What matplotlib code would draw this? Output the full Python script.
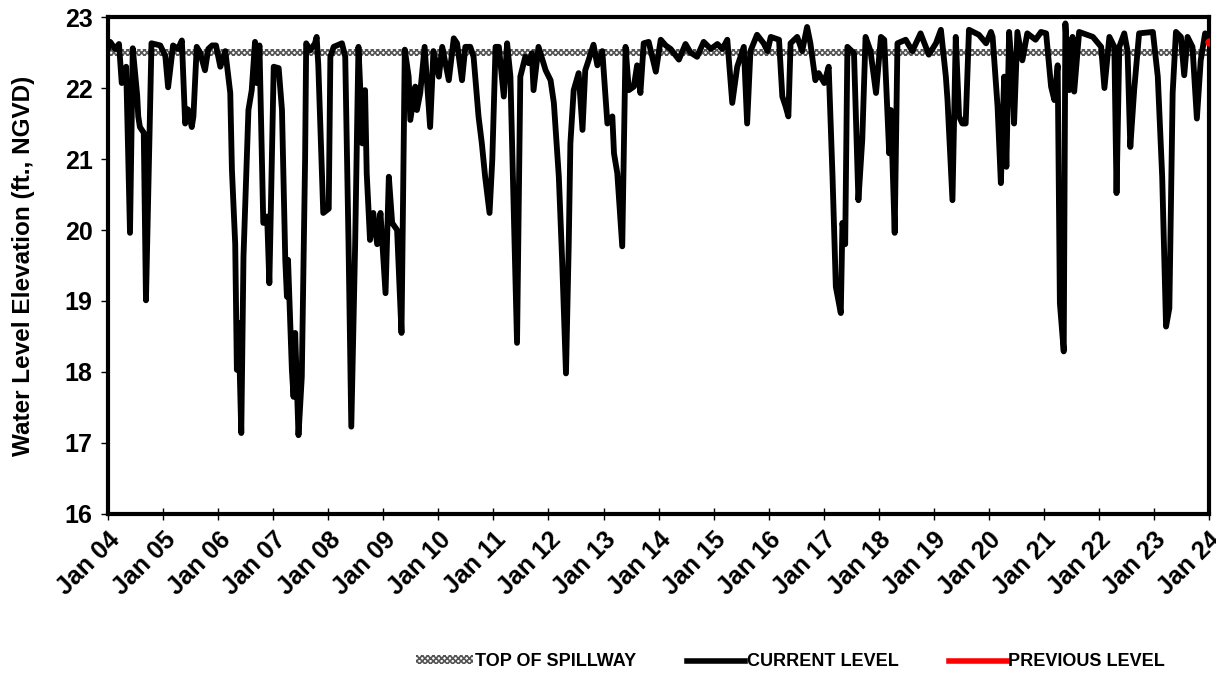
import numpy as np
import pandas as pd
import matplotlib
matplotlib.use("Agg")
import matplotlib.pyplot as plt
import matplotlib.dates as mdates
from matplotlib.patches import Patch
from matplotlib.lines import Line2D

plt.rcParams["font.family"] = ["Liberation Sans", "DejaVu Sans"]
plt.rcParams["font.weight"] = "bold"
plt.rcParams["hatch.linewidth"] = 1.2

# 판독한 값 (소수 연도, 수위 ft NGVD)
years = [
    2004.00, 2004.04, 2004.13, 2004.20, 2004.25, 2004.33, 2004.40, 2004.45, 2004.53, 2004.55,
    2004.58, 2004.65, 2004.69, 2004.79, 2004.95, 2005.04, 2005.09, 2005.18, 2005.27, 2005.34,
    2005.40, 2005.45, 2005.52, 2005.55, 2005.61, 2005.67, 2005.76, 2005.82, 2005.89, 2005.96,
    2006.04, 2006.13, 2006.22, 2006.25, 2006.31, 2006.34, 2006.37, 2006.42, 2006.46, 2006.55,
    2006.61, 2006.67, 2006.70, 2006.75, 2006.82, 2006.89, 2006.93, 2007.01, 2007.10, 2007.16,
    2007.22, 2007.25, 2007.27, 2007.34, 2007.37, 2007.40, 2007.46, 2007.52, 2007.58, 2007.60,
    2007.67, 2007.76, 2007.79, 2007.82, 2007.91, 2008.01, 2008.04, 2008.10, 2008.25, 2008.31,
    2008.37, 2008.42, 2008.49, 2008.55, 2008.60, 2008.62, 2008.67, 2008.70, 2008.76, 2008.82,
    2008.89, 2008.95, 2009.04, 2009.10, 2009.16, 2009.25, 2009.33, 2009.39, 2009.46, 2009.49,
    2009.58, 2009.61, 2009.67, 2009.75, 2009.85, 2009.91, 2010.01, 2010.07, 2010.19, 2010.28,
    2010.34, 2010.43, 2010.49, 2010.58, 2010.64, 2010.73, 2010.79, 2010.85, 2010.93, 2010.98,
    2011.04, 2011.10, 2011.19, 2011.25, 2011.31, 2011.43, 2011.49, 2011.58, 2011.64, 2011.70,
    2011.73, 2011.82, 2011.95, 2012.04, 2012.10, 2012.19, 2012.25, 2012.32, 2012.37, 2012.40,
    2012.46, 2012.55, 2012.62, 2012.67, 2012.73, 2012.82, 2012.89, 2012.98, 2013.07, 2013.16,
    2013.19, 2013.25, 2013.34, 2013.40, 2013.46, 2013.55, 2013.61, 2013.67, 2013.73, 2013.82,
    2013.95, 2014.04, 2014.13, 2014.22, 2014.37, 2014.49, 2014.58, 2014.70, 2014.82, 2014.95,
    2015.07, 2015.16, 2015.25, 2015.34, 2015.43, 2015.55, 2015.61, 2015.67, 2015.79, 2015.91,
    2015.98, 2016.04, 2016.19, 2016.25, 2016.31, 2016.36, 2016.40, 2016.52, 2016.61, 2016.70,
    2016.76, 2016.85, 2016.91, 2017.01, 2017.09, 2017.16, 2017.22, 2017.31, 2017.34, 2017.39,
    2017.43, 2017.55, 2017.63, 2017.70, 2017.76, 2017.85, 2017.95, 2018.04, 2018.10, 2018.19,
    2018.22, 2018.29, 2018.34, 2018.49, 2018.61, 2018.76, 2018.91, 2019.04, 2019.13, 2019.22,
    2019.25, 2019.34, 2019.40, 2019.46, 2019.52, 2019.58, 2019.64, 2019.82, 2019.95, 2020.04,
    2020.07, 2020.16, 2020.22, 2020.28, 2020.32, 2020.37, 2020.43, 2020.46, 2020.52, 2020.61,
    2020.70, 2020.85, 2020.95, 2021.04, 2021.13, 2021.19, 2021.25, 2021.29, 2021.36, 2021.39,
    2021.46, 2021.52, 2021.55, 2021.64, 2021.89, 2022.04, 2022.10, 2022.19, 2022.28, 2022.32,
    2022.37, 2022.46, 2022.52, 2022.57, 2022.64, 2022.73, 2022.98, 2023.07, 2023.15, 2023.22,
    2023.28, 2023.34, 2023.40, 2023.49, 2023.55, 2023.61, 2023.70, 2023.78, 2023.85, 2023.93,
    2023.98,
]
levels = [
    22.55, 22.65, 22.55, 22.62, 22.07, 22.30, 19.96, 22.56, 21.90, 21.60,
    21.45, 21.37, 19.01, 22.63, 22.60, 22.45, 22.01, 22.60, 22.55, 22.67,
    21.50, 21.70, 21.45, 21.60, 22.58, 22.50, 22.25, 22.55, 22.60, 22.60,
    22.30, 22.52, 21.93, 20.85, 19.80, 18.03, 18.69, 17.14, 19.62, 21.69,
    21.97, 22.65, 22.07, 22.60, 20.10, 20.19, 19.25, 22.30, 22.28, 21.69,
    19.58, 19.06, 19.58, 18.03, 17.65, 18.55, 17.11, 17.93, 20.99, 22.63,
    22.53, 22.63, 22.72, 22.32, 20.24, 20.30, 22.44, 22.58, 22.63, 22.44,
    19.80, 17.23, 19.80, 22.58, 21.69, 21.22, 21.97, 20.80, 19.86, 20.24,
    19.80, 20.24, 19.11, 20.75, 20.10, 20.00, 18.55, 22.54, 22.16, 21.55,
    22.02, 21.69, 21.93, 22.58, 21.45, 22.52, 22.16, 22.58, 22.11, 22.70,
    22.63, 22.11, 22.58, 22.58, 22.44, 21.60, 21.22, 20.75, 20.24, 20.99,
    22.58, 22.58, 21.88, 22.63, 22.16, 18.41, 22.16, 22.44, 22.35, 22.49,
    21.97, 22.58, 22.25, 22.11, 21.79, 20.75, 19.58, 17.98, 19.80, 21.22,
    21.97, 22.21, 21.41, 22.25, 22.39, 22.61, 22.32, 22.52, 21.50, 21.60,
    21.08, 20.80, 19.77, 22.58, 21.97, 22.02, 22.32, 21.93, 22.63, 22.65,
    22.23, 22.68, 22.60, 22.55, 22.40, 22.62, 22.50, 22.44, 22.65, 22.55,
    22.62, 22.55, 22.68, 21.79, 22.30, 22.58, 21.50, 22.52, 22.75, 22.63,
    22.52, 22.72, 22.68, 21.88, 21.74, 21.60, 22.63, 22.72, 22.52, 22.86,
    22.63, 22.11, 22.21, 22.07, 22.30, 20.75, 19.20, 18.83, 20.10, 19.80,
    22.58, 22.49, 20.42, 21.27, 22.72, 22.52, 21.93, 22.72, 22.68, 21.08,
    21.69, 19.96, 22.63, 22.68, 22.52, 22.77, 22.47, 22.63, 22.82, 22.16,
    21.83, 20.42, 22.72, 21.60, 21.50, 21.50, 22.82, 22.75, 22.63, 22.79,
    22.72, 21.74, 20.66, 22.16, 20.89, 22.79, 22.16, 21.50, 22.79, 22.39,
    22.77, 22.68, 22.79, 22.77, 22.02, 21.83, 22.32, 18.97, 18.29, 22.91,
    21.97, 22.72, 21.95, 22.79, 22.72, 22.58, 22.00, 22.72, 22.58, 20.52,
    22.58, 22.77, 22.52, 21.17, 21.97, 22.77, 22.79, 22.16, 20.75, 18.64,
    18.90, 21.93, 22.79, 22.72, 22.18, 22.72, 22.58, 21.57, 22.39, 22.77,
    22.70,
]
prev_years = [2024.00]
prev_levels = [22.65]
spillway = 22.5
yticks = [16, 17, 18, 19, 20, 21, 22, 23]


def to_date(y):
    base = pd.Timestamp(year=int(y), month=1, day=1)
    return base + pd.Timedelta(days=(y - int(y)) * 365.25)


dates = [to_date(y) for y in years]
prev_dates = [to_date(y) for y in prev_years]

fig = plt.figure(figsize=(12.16, 6.73), dpi=100)
ax = fig.add_axes([0.0888, 0.2363, 0.9054, 0.7384])

x0, x1 = pd.Timestamp("2004-01-01"), pd.Timestamp("2024-01-01")
ax.fill_between([x0, x1], spillway - 0.05, spillway + 0.05, facecolor="white",
                edgecolor="#555555", hatch="xxxxxx", linewidth=0, zorder=1)
ax.plot(dates, levels, color="black", lw=4.2, solid_joinstyle="round",
        solid_capstyle="round", zorder=3)
ax.plot(prev_dates, prev_levels, "o", color="red", ms=5, zorder=4)

ax.set_xlim(x0, x1)
ax.set_ylim(16, 23)
ax.set_yticks(yticks)
ax.xaxis.set_major_locator(mdates.YearLocator())
ax.xaxis.set_major_formatter(mdates.DateFormatter("%b %y"))
for lbl in ax.get_xticklabels():
    lbl.set_rotation(45)
    lbl.set_ha("right")
    lbl.set_rotation_mode("anchor")
ax.tick_params(axis="x", direction="inout", length=8, width=1, labelsize=18, pad=6)
ax.tick_params(axis="y", direction="out", length=5, width=1, labelsize=18, pad=6)
for s in ax.spines.values():
    s.set_linewidth(3)
ax.set_ylabel("Water Level Elevation (ft., NGVD)", fontsize=17.5, fontweight="bold")
ax.yaxis.set_label_coords(-0.066, 0.5)

handles = [
    Patch(facecolor="white", edgecolor="#555555", hatch="xxxxxx", linewidth=0),
    Line2D([], [], color="black", lw=4),
    Line2D([], [], color="red", lw=4),
]
fig.legend(handles, ["TOP OF SPILLWAY", "CURRENT LEVEL", "PREVIOUS LEVEL"],
           loc="center", bbox_to_anchor=(0.65, 0.017), ncol=3, frameon=False,
           prop={"size": 13, "weight": "bold"}, handlelength=3.2, handleheight=0.4,
           handletextpad=0.1, columnspacing=2.8)

fig.savefig("out.png", dpi=100)
